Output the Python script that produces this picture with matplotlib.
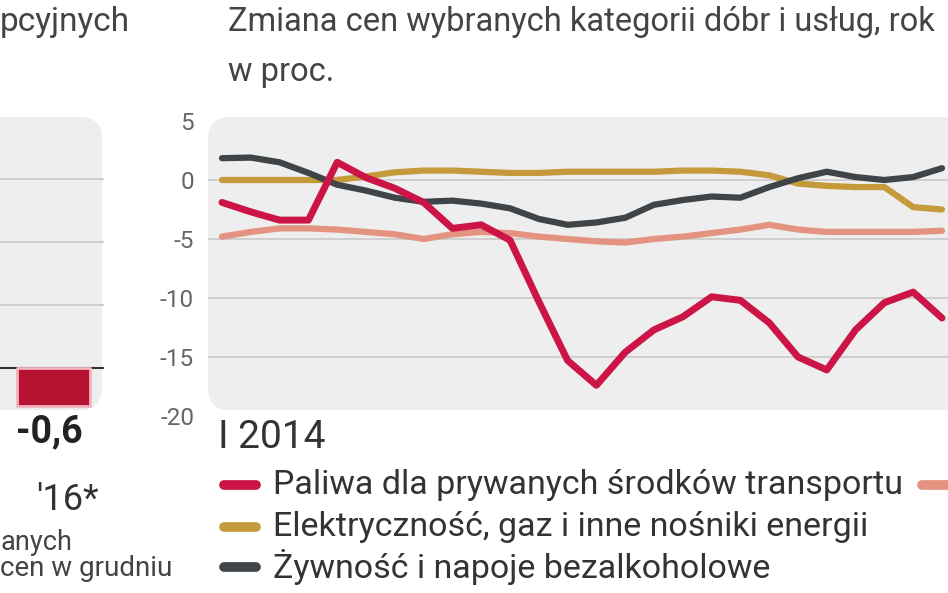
import matplotlib
matplotlib.use('Agg')
import matplotlib.pyplot as plt
from matplotlib.patches import FancyBboxPatch
from matplotlib.lines import Line2D

plt.rcParams['font.family'] = ['Roboto', 'DejaVu Sans']
plt.rcParams['axes.unicode_minus'] = False

W, H = 948, 593

# dane miesieczne od I 2014, zmiana r/r w proc.
paliwa = [-1.9, -2.7, -3.4, -3.4, 1.5, 0.2, -0.7, -1.9, -4.1, -3.8, -5.1, -10.3, -15.3,
          -17.4, -14.6, -12.7, -11.6, -9.9, -10.2, -12.1, -15.0, -16.1, -12.7, -10.4, -9.5, -11.7]
energia = [0.0, 0.0, 0.0, 0.0, 0.0, 0.3, 0.65, 0.8, 0.8, 0.7, 0.6, 0.6, 0.7,
           0.7, 0.7, 0.7, 0.8, 0.8, 0.7, 0.4, -0.3, -0.5, -0.6, -0.6, -2.3, -2.5]
zywnosc = [1.85, 1.9, 1.5, 0.6, -0.4, -0.9, -1.5, -1.85, -1.75, -2.0, -2.4, -3.3, -3.8,
           -3.6, -3.2, -2.1, -1.7, -1.4, -1.5, -0.6, 0.15, 0.7, 0.25, 0.0, 0.25, 1.0]
odziez = [-4.8, -4.4, -4.1, -4.1, -4.2, -4.4, -4.6, -5.0, -4.6, -4.4, -4.5, -4.8, -5.0,
          -5.2, -5.3, -5.0, -4.8, -4.5, -4.2, -3.8, -4.2, -4.4, -4.4, -4.4, -4.4, -4.3]

nazwy = ['Paliwa dla prywanych środków transportu',
         'Elektryczność, gaz i inne nośniki energii',
         'Żywność i napoje bezalkoholowe']
kolory = ['#cc1446', '#c49a3a', '#3e4447']
kolor_odziez = '#e3937f'

y_ticks = [5, 0, -5, -10, -15, -20]
y_grid = [0, -5, -10, -15]
start_label = 'I 2014'

# lewy wykres (inflacja roczna)
lata = ["'16*"]
cpi = [-0.6]
cpi_grid = [1, 2, 3]


def box(x0, y0, x1, y1):
    # piksele (od gory) -> ulamki figury
    return [x0 / W, 1 - y1 / H, (x1 - x0) / W, (y1 - y0) / H]


def fy(y):
    return 1 - y / H


fig = plt.figure(figsize=(W / 100, H / 100), dpi=100)
fig.patch.set_facecolor('white')

# tla z zaokraglonymi rogami (w calach)
for x0, w in [(-0.5, 1.52), (2.08, 8.5)]:
    bg = FancyBboxPatch((x0, 1.83), w, 2.93, boxstyle='round,pad=0,rounding_size=0.22',
                        transform=fig.dpi_scale_trans, fc='#eeeeee', ec='none', zorder=-1)
    fig.add_artist(bg)

# --- prawy wykres ---
ax = fig.add_axes(box(208, 117, W, 419.5))
ax.patch.set_visible(False)
for s in ax.spines.values():
    s.set_visible(False)
x = list(range(len(paliwa)))
ax.set_xlim(-14 / 28.8, (W - 222) / 28.8)
ax.set_ylim(-20.3, 5.34)
for v in y_grid:
    ax.axhline(v, color='#c9c9c9', lw=1.2, zorder=1)

ax.plot(x, odziez, color=kolor_odziez, lw=4.5, solid_capstyle='round', solid_joinstyle='round', zorder=2)
ax.plot(x, energia, color=kolory[1], lw=4.5, solid_capstyle='round', solid_joinstyle='round', zorder=3)
ax.plot(x, zywnosc, color=kolory[2], lw=4.5, solid_capstyle='round', solid_joinstyle='round', zorder=4)
ax.plot(x, paliwa, color=kolory[0], lw=5, solid_capstyle='round', solid_joinstyle='round', zorder=5)

ax.set_xticks([])
ax.set_yticks(y_ticks)
ax.set_yticklabels([str(v) for v in y_ticks])
ax.tick_params(axis='y', length=0, pad=10, labelsize=17.5, labelcolor='#666666')

fig.text(218 / W, fy(437), start_label, fontsize=28, color='#333333', va='center')

fig.text(228 / W, fy(22), 'Zmiana cen wybranych kategorii dóbr i usług, rok',
         fontsize=23.5, color='#444444', va='center')
fig.text(228 / W, fy(72), 'w proc.', fontsize=23.5, color='#444444', va='center')

# legenda
for nazwa, kol, yy in zip(nazwy, kolory, [485, 527, 567]):
    fig.add_artist(Line2D([224 / W, 256 / W], [fy(yy), fy(yy)], transform=fig.transFigure,
                          color=kol, lw=7, solid_capstyle='round'))
    fig.text(273 / W, fy(yy), nazwa, fontsize=24.5, color='#333333', va='center')
fig.add_artist(Line2D([922 / W, 965 / W], [fy(485), fy(485)], transform=fig.transFigure,
                      color=kolor_odziez, lw=7, solid_capstyle='round'))

# --- lewy wykres ---
ax2 = fig.add_axes(box(0, 117, 104, 410))
ax2.patch.set_visible(False)
for s in ax2.spines.values():
    s.set_visible(False)
ax2.set_xlim(-0.513, 0.484)
ax2.set_ylim(-0.667, 3.98)
for v in cpi_grid:
    ax2.axhline(v, color='#c9c9c9', lw=1.2, zorder=1)
ax2.axhline(0, color='#333333', lw=1.5, zorder=2)
bars = ax2.bar(range(len(cpi)), cpi, width=0.7, color='#b81232', edgecolor='#f0b4bc',
               linewidth=2, zorder=3)
for b in bars:
    b.set_joinstyle('round')
ax2.set_xticks([])
ax2.set_yticks([])
for i, v in enumerate(cpi):
    ax2.annotate(f'{v:.1f}'.replace('.', ','), xy=(i, v), xytext=(-3, -19),
                 textcoords='offset points', ha='center', va='center',
                 fontsize=27, fontweight='bold', color='#222222')
    ax2.annotate(lata[i], xy=(i, 0), xycoords=('data', 'axes fraction'), xytext=(10, -65),
                 textcoords='offset points', ha='center', va='center',
                 fontsize=26, color='#333333')

fig.text(0, fy(22), 'pcyjnych', fontsize=24, color='#444444', va='center')
fig.text(0, fy(542), 'anych', fontsize=19.5, color='#444444', va='center')
fig.text(0, fy(568), 'cen w grudniu', fontsize=20, color='#444444', va='center')

fig.savefig('out.png', dpi=100)
